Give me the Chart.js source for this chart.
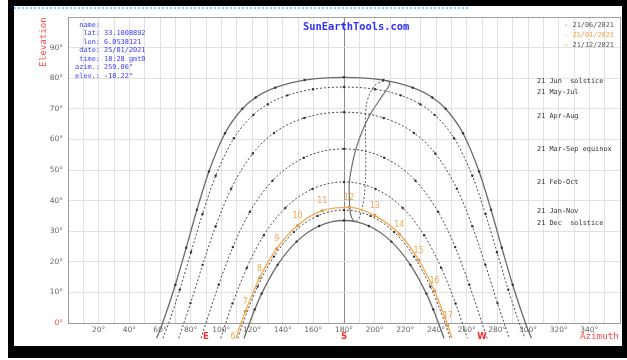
<!DOCTYPE html>
<html><head><meta charset="utf-8">
<script src="https://cdn.jsdelivr.net/npm/chart.js@4/dist/chart.umd.min.js"></script>
<style>
html,body{margin:0;padding:0;background:#fff;}
#wrap{position:relative;width:627px;height:360px;overflow:hidden;background:#fff;}
#c{position:absolute;left:0;top:0;}
.blk{position:absolute;background:#000;}
.t{position:absolute;white-space:pre;font-family:'DejaVu Sans Mono',monospace;line-height:1;}
.info{color:#3b3bff;font-size:6.9px;line-height:8.45px;}
.rl{color:#333;font-size:6.9px;}
.lg{color:#555;font-size:6.9px;text-align:right;}
</style></head>
<body>
<div id="wrap">
<canvas id="c" width="627" height="360"></canvas>
<div style="position:absolute;left:14px;top:7px;width:454px;height:0;border-top:2px dotted #7fcfff;"></div>
<div class="t info" style="left:50px;top:20.8px;width:50px;text-align:right;">name:
lat:
lon:
date:
time:
azim.:
elev.:</div>
<div class="t info" style="left:104px;top:20.8px;">
33.1008892
6.0538121
25/01/2021
18:28 gmt0
259.06°
-18.22°</div>
<div class="t" style="left:303px;top:21px;font-size:10.4px;color:#3030ff;font-weight:bold;">SunEarthTools.com</div>
<div class="t lg" style="right:13px;top:21.5px;">- 21/06/2021</div>
<div class="t lg" style="right:13px;top:31.5px;color:#f5a040;">- 25/01/2021</div>
<div class="t lg" style="right:13px;top:41.5px;">- 21/12/2021</div>
<div class="t rl" style="left:537px;top:78.2px;">21 Jun  solstice</div>
<div class="t rl" style="left:537px;top:89.2px;">21 May-Jul</div>
<div class="t rl" style="left:537px;top:113.2px;">21 Apr-Aug</div>
<div class="t rl" style="left:537px;top:145.8px;">21 Mar-Sep equinox</div>
<div class="t rl" style="left:537px;top:178.5px;">21 Feb-Oct</div>
<div class="t rl" style="left:537px;top:207.5px;">21 Jan-Nov</div>
<div class="t rl" style="left:537px;top:220.2px;">21 Dec  solstice</div>
<div class="t" style="left:42.5px;top:42px;font-size:9.2px;color:#ff4a4a;transform:translate(-50%,-50%) rotate(-90deg);">Elevation</div>
<div class="t" style="left:580px;top:331px;font-size:9.2px;color:#ff4a4a;">Azimuth</div>
<div class="blk" style="left:8px;top:0;width:619px;height:6px;"></div>
<div class="blk" style="left:8px;top:0;width:6px;height:358px;"></div>
<div class="blk" style="left:622px;top:0;width:5px;height:358px;"></div>
<div class="blk" style="left:8px;top:346px;width:619px;height:12px;"></div>
</div>
<script>
// ---- data (azimuth °, elevation °) ----
const jun21 = [[57.8,-5],[61.7,0],[70.0,12.5],[77.1,24.6],[84.1,37.0],[91.9,49.5],[102.4,62.0],[113.7,70.0],[122.4,73.7],[135.1,76.9],[154.3,79.4],[180,80.3],[205.7,79.4],[224.9,76.9],[237.6,73.7],[246.3,70.0],[257.6,62.0],[268.1,49.5],[275.9,37.0],[282.9,24.6],[290.0,12.5],[298.3,0],[302.2,-5]];
const mayJul21 = [[61.9,-5],[65.7,0],[72.9,10.9],[80.2,23.1],[87.7,35.6],[96.3,48.1],[108.2,60.4],[120.9,68.0],[130.3,71.5],[143.0,74.4],[159.8,76.4],[180,77.1],[200.2,76.4],[217.0,74.4],[229.7,71.5],[239.1,68.0],[251.8,60.4],[263.7,48.1],[272.3,35.6],[279.8,23.1],[287.1,10.9],[294.3,0],[298.1,-5]];
const aprAug21 = [[72.2,-5],[75.6,0],[79.9,6.5],[87.8,19.0],[96.3,31.6],[106.4,43.9],[120.5,55.4],[134.4,62.1],[154.1,67.0],[180,68.9],[205.9,67.0],[225.6,62.1],[239.5,55.4],[253.6,43.9],[263.7,31.6],[272.2,19.0],[280.1,6.5],[284.4,0],[287.8,-5]];
const marSep21 = [[86.7,-5],[90,0],[98.3,12.5],[107.5,24.8],[118.6,36.3],[133.4,46.5],[153.8,54.0],[180,56.9],[206.2,54.0],[226.6,46.5],[241.4,36.3],[252.5,24.8],[261.7,12.5],[270,0],[273.3,-5]];
const febOct21 = [[99.6,-5],[102.9,0],[107.3,6.4],[116.6,18.0],[127.7,28.7],[141.7,37.6],[159.4,43.8],[180,46.1],[200.6,43.8],[218.3,37.6],[232.3,28.7],[243.4,18.0],[252.7,6.4],[257.1,0],[260.4,-5]];
const janNov21 = [[110.7,-5],[114.1,0],[123.7,11.9],[134.3,21.7],[147.3,29.7],[162.7,35.0],[180,36.9],[197.3,35.0],[212.7,29.7],[225.7,21.7],[236.3,11.9],[245.9,0],[249.3,-5]];
const dec21 = [[114.8,-5],[118.4,0],[121.8,4.4],[126.3,9.6],[136.7,19.0],[149.1,26.6],[163.8,31.7],[180,33.5],[196.2,31.7],[210.9,26.6],[223.3,19.0],[233.7,9.6],[238.2,4.4],[241.6,0],[245.2,-5]];
const jan25 = [[109.5,-5],[112.9,0],[115.7,3.8],[124.9,14.7],[136.1,24.3],[149.7,31.9],[165.8,36.7],[183.4,37.8],[200.1,35.1],[216.1,29.1],[228.7,20.6],[239.0,10.5],[247.7,-0.8],[250.5,-5]];
const jan25Hours = [6,7,8,9,10,11,12,13,14,15,16,17];
const jan25HourPts = [[107.6,-7.8],[115.7,3.8],[124.9,14.7],[136.1,24.3],[149.7,31.9],[165.8,36.7],[183.4,37.8],[200.1,35.1],[216.1,29.1],[228.7,20.6],[239.0,10.5],[247.7,-0.8]];
const analemmaDecJun = [[187.1,33.1],[185.8,33.7],[184.6,35.0],[183.9,36.8],[183.4,42.6],[183.5,46.1],[185.1,51.2],[187.7,56.7],[191.8,62.6],[196.9,68.0],[205.1,74.3],[207.0,75.6],[209.3,77.5],[209.7,78.6],[208.6,79.1]];
const analemmaJunDec = [[208.6,79.1],[205.8,79.0],[201.6,78.2],[198.8,76.8],[195.4,73.0],[194.1,68.6],[194.0,62.5],[194.2,56.6],[194.2,50.9],[193.8,45.0],[193.0,40.7],[191.2,36.1],[189.2,33.8],[187.1,33.1]];
const compassLetters = ['E','S','W'];
const compassAz = [90,180,270];

const ORANGE = '#f5a64e';
const pts = a => a.map(p => ({x:p[0], y:p[1]}));
const dotR = c => (c.raw && c.raw.y > 0.5) ? 1.2 : 0;

function curve(data, color, dashed, width){
  return {data: pts(data), borderColor: color, borderWidth: width || 1, borderDash: dashed ? [2,2] : [],
    cubicInterpolationMode: 'monotone', pointRadius: dotR, pointBackgroundColor: '#333', pointBorderWidth: 0, clip: false};
}

const annot = {
  id: 'annot',
  afterDatasetsDraw(chart){
    const {ctx, scales:{x, y}, chartArea} = chart;
    ctx.save();
    ctx.font = '8px "DejaVu Sans"';
    ctx.fillStyle = ORANGE;
    ctx.textAlign = 'center';
    ctx.textBaseline = 'middle';
    jan25Hours.forEach((h, i) => {
      const p = jan25HourPts[i];
      ctx.fillText(String(h), x.getPixelForValue(p[0]), y.getPixelForValue(p[1]) - 9.5);
    });
    ctx.font = 'bold 8.5px "DejaVu Sans"';
    ctx.fillStyle = '#ff2a2a';
    compassLetters.forEach((l, i) => {
      ctx.fillText(l, x.getPixelForValue(compassAz[i]), chartArea.bottom + 14);
    });
    ctx.restore();
  }
};

new Chart(document.getElementById('c'), {
  type: 'line',
  data: { datasets: [
    {data: pts(jan25), borderColor: ORANGE, borderWidth: 1.3, cubicInterpolationMode: 'monotone', pointRadius: 0, clip: false},
    {data: pts(jan25HourPts.slice(1)), showLine: false, pointRadius: 1.5, pointBackgroundColor: '#c8782a', pointBorderWidth: 0, clip: false},
    curve(jun21, '#6a6a6a', false, 1.3),
    curve(mayJul21, '#4a4a4a', true),
    curve(aprAug21, '#4a4a4a', true),
    curve(marSep21, '#4a4a4a', true),
    curve(febOct21, '#4a4a4a', true),
    curve(janNov21, '#4a4a4a', true),
    curve(dec21, '#6a6a6a', false, 1.3),
    {data: pts(analemmaDecJun), borderColor: '#707070', borderWidth: 1.2, tension: 0.4, pointRadius: 0, clip: false},
    {data: pts(analemmaJunDec), borderColor: '#555', borderWidth: 1, borderDash: [2,2], tension: 0.4, pointRadius: 0, clip: false}
  ]},
  options: {
    responsive: false, animation: false, devicePixelRatio: 1,
    layout: {padding: {left: 0, top: 17, right: 7, bottom: 0}},
    plugins: {legend: {display: false}, tooltip: {enabled: false}},
    scales: {
      x: {type: 'linear', min: 0, max: 360,
        afterFit: s => { s.height = 37; },
        border: {color: '#999', width: 1},
        grid: {drawTicks: false, lineWidth: 1,
          color: c => c.tick.value === 180 ? '#8a8a8a' : (c.tick.value === 360 ? '#a0a0a0' : '#e0e0e0')},
        ticks: {stepSize: 10, autoSkip: false, maxRotation: 0, padding: 3, color: '#666',
          font: {size: 7.5, family: 'DejaVu Sans'},
          callback: v => (v % 20 === 0 && v > 0 && v < 360) ? v + '°' : ''}
      },
      y: {min: 0, max: 100,
        afterFit: s => { s.width = 68; },
        border: {color: '#999', width: 1},
        grid: {drawTicks: false, lineWidth: 1,
          color: c => c.tick.value === 100 ? '#a0a0a0' : '#e0e0e0'},
        ticks: {stepSize: 10, padding: 5,
          color: c => c.tick.value === 0 ? '#ff4040' : '#666',
          font: {size: 7.5, family: 'DejaVu Sans'},
          callback: v => v < 100 ? v + '°' : ''}
      }
    }
  },
  plugins: [annot]
});
</script>
</body></html>
